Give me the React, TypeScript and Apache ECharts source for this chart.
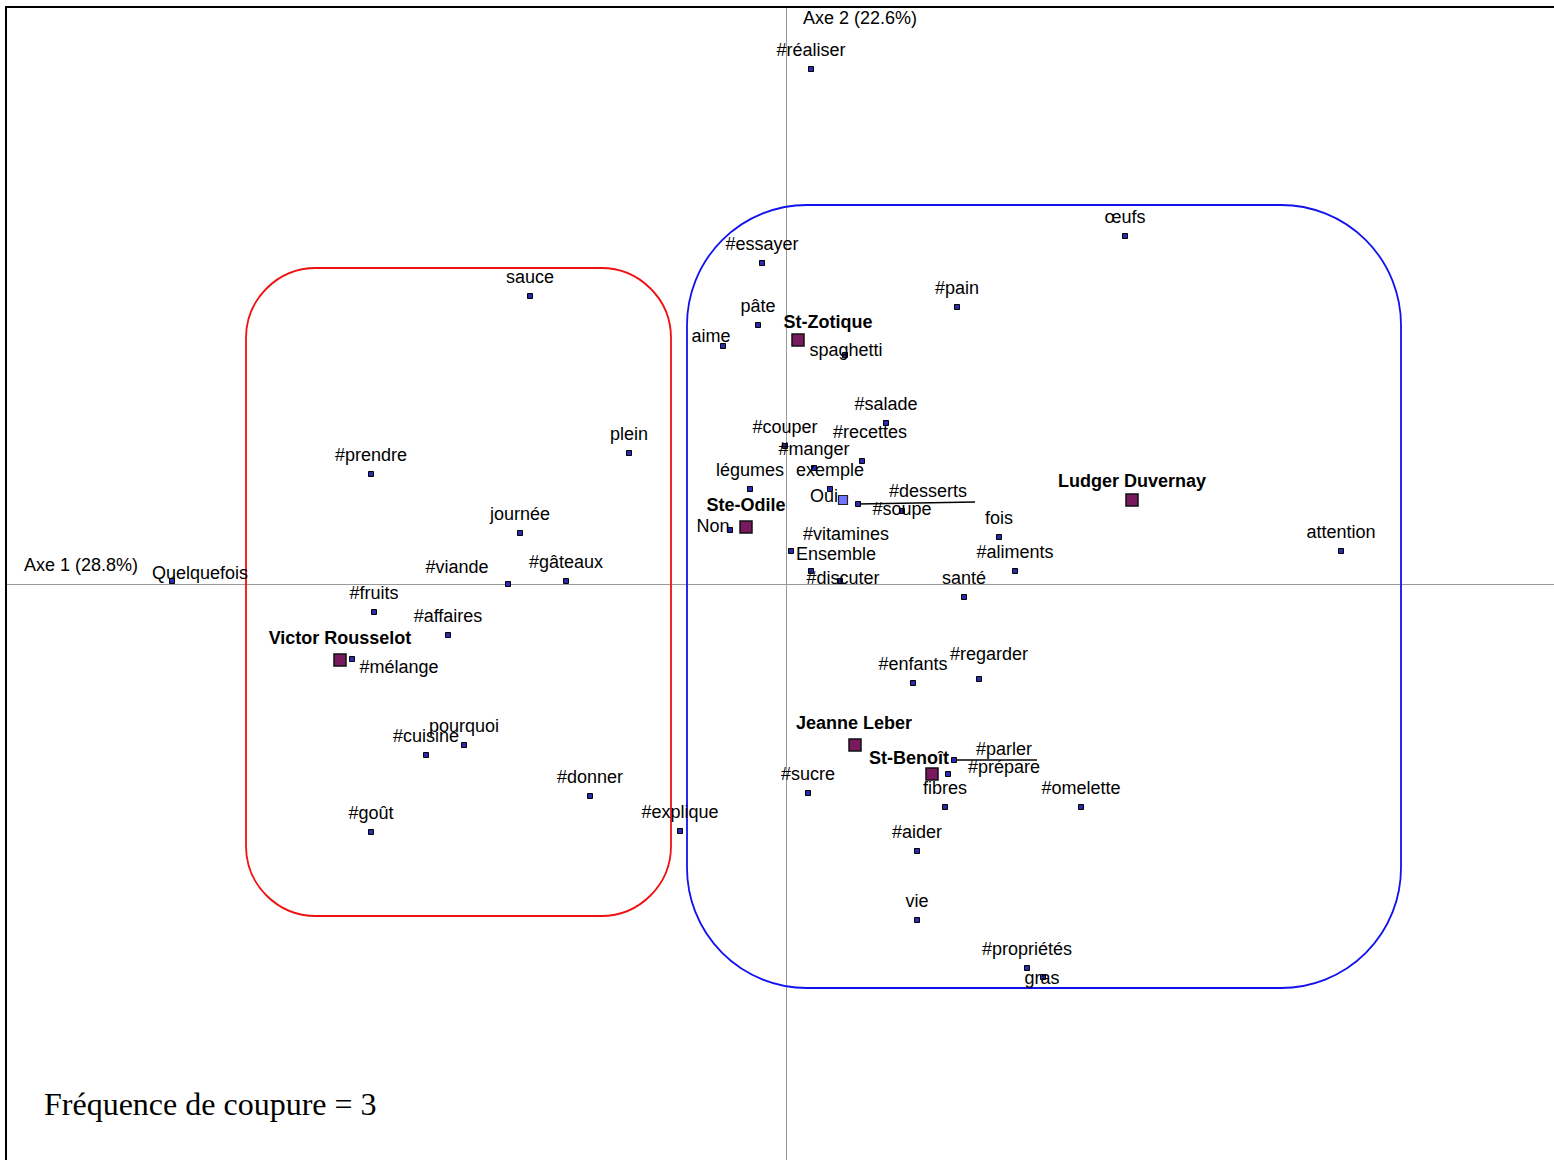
import React, { useEffect, useRef } from "react";
import * as echarts from "echarts";

// Word points: [label, axe1, axe2]
const words: [string, number, number][] = [
  ["#réaliser", 0.25, 5.15],
  ["œufs", 3.39, 3.48],
  ["#essayer", -0.24, 3.21],
  ["#pain", 1.71, 2.77],
  ["sauce", -2.56, 2.88],
  ["pâte", -0.28, 2.59],
  ["aime", -0.63, 2.38],
  ["spaghetti", 0.59, 2.29],
  ["#salade", 1.0, 1.61],
  ["#recettes", 0.76, 1.23],
  ["#couper", -0.01, 1.38],
  ["#manger", 0.28, 1.16],
  ["exemple", 0.44, 0.95],
  ["légumes", -0.36, 0.95],
  ["#desserts", 0.72, 0.8],
  ["#soupe", 1.16, 0.73],
  ["Non", -0.56, 0.54],
  ["#vitamines", 0.25, 0.13],
  ["Ensemble", 0.05, 0.33],
  ["#discuter", 0.54, 0.03],
  ["fois", 2.13, 0.47],
  ["#aliments", 2.29, 0.13],
  ["santé", 1.78, -0.13],
  ["attention", 5.55, 0.33],
  ["plein", -1.57, 1.31],
  ["#prendre", -4.15, 1.1],
  ["journée", -2.66, 0.51],
  ["#viande", -2.78, 0.0],
  ["#gâteaux", -2.2, 0.03],
  ["Quelquefois", -6.14, 0.03],
  ["#fruits", -4.12, -0.28],
  ["#affaires", -3.38, -0.51],
  ["#mélange", -4.34, -0.75],
  ["#cuisine", -3.6, -1.71],
  ["pourquoi", -3.22, -1.61],
  ["#donner", -1.96, -2.12],
  ["#goût", -4.15, -2.48],
  ["#explique", -1.06, -2.47],
  ["#enfants", 1.27, -0.99],
  ["#regarder", 1.93, -0.95],
  ["#parler", 1.68, -1.76],
  ["#prépare", 1.62, -1.9],
  ["fibres", 1.59, -2.23],
  ["#sucre", 0.22, -2.09],
  ["#omelette", 2.95, -2.23],
  ["#aider", 1.31, -2.67],
  ["vie", 1.31, -3.36],
  ["#propriétés", 2.41, -3.84],
  ["gras", 2.57, -3.93],
];

// Group (school) points
const groups: [string, number, number][] = [
  ["St-Zotique", 0.12, 2.44],
  ["Ste-Odile", -0.4, 0.57],
  ["Ludger Duvernay", 3.46, 0.84],
  ["Victor Rousselot", -4.46, -0.76],
  ["Jeanne Leber", 0.69, -1.61],
  ["St-Benoît", 1.46, -1.9],
];

// Supplementary point
const supplementary: [string, number, number][] = [["Oui", 0.57, 0.84]];

// Leader lines from a point to its displaced label: [x1, y1, x2, y2]
const leaders: [number, number, number, number][] = [
  [0.72, 0.8, 1.89, 0.82],
  [1.68, -1.76, 2.51, -1.76],
];

// Cluster frames: [xLeft, yTop, xRight, yBottom]
const clusters: [number, number, number, number][] = [
  [-5.4, 3.16, -1.15, -3.32],
  [-0.99, 3.79, 6.15, -4.04],
];

const axisTitles = ["Axe 1 (28.8%)", "Axe 2 (22.6%)"];
const footnote = "Fréquence de coupure = 3";

// ---- styling (label offsets in px, relative to point) ----
const labelOffsets: Record<string, [number, number]> = {
  aime: [-12, -10],
  spaghetti: [1, -5],
  "#recettes": [8, -29],
  "#desserts": [70, -13],
  "#soupe": [0, -2],
  Non: [-17, -4],
  "#vitamines": [35, -37],
  Ensemble: [45, 3],
  "#discuter": [3, -3],
  "#viande": [-51, -17],
  Quelquefois: [28, -8],
  "#mélange": [47, 8],
  "#regarder": [10, -25],
  "#parler": [50, -11],
  "#prépare": [56, -7],
  gras: [-1, 1],
  "St-Zotique": [30, -18],
  "Ste-Odile": [0, -22],
  "Victor Rousselot": [0, -22],
  "Jeanne Leber": [-1, -22],
  "St-Benoît": [-23, -16],
  Oui: [-19, -4],
};
const clusterColors = ["#ee1111", "#1111ee"];
const clusterRadius = [70, 120];
const FONT = "'Liberation Sans', Arial, Helvetica, sans-serif";

function toData(list: [string, number, number][], defDy: number) {
  return list.map(([name, x, y]) => ({
    name,
    value: [x, y],
    label: { offset: labelOffsets[name] || [0, defDy] },
  }));
}

export default function App() {
  const ref = useRef<HTMLDivElement>(null);
  useEffect(() => {
    document.body.style.margin = "0";
    const chart = echarts.init(ref.current!, undefined, { renderer: "svg" });
    const labelBase = {
      show: true,
      position: "inside",
      formatter: "{b}",
      color: "#000",
      textBorderWidth: 0,
      fontFamily: FONT,
      fontSize: 18,
    };
    const series: any[] = [
      {
        type: "custom",
        silent: true,
        z: 1,
        data: clusters.map((c, i) => [...c, i]),
        encode: { x: [0, 2], y: [1, 3] },
        renderItem: (params: any, api: any) => {
          const p0 = api.coord([api.value(0), api.value(1)]);
          const p1 = api.coord([api.value(2), api.value(3)]);
          const i = api.value(4);
          return {
            type: "rect",
            shape: {
              x: p0[0],
              y: p0[1],
              width: p1[0] - p0[0],
              height: p1[1] - p0[1],
              r: clusterRadius[i],
            },
            style: { fill: "none", stroke: clusterColors[i], lineWidth: 1.8 },
          };
        },
      },
      ...leaders.map((l) => ({
        type: "line",
        silent: true,
        symbol: "none",
        z: 2,
        lineStyle: { color: "#000", width: 1.5 },
        data: [
          [l[0], l[1]],
          [l[2], l[3]],
        ],
      })),
      {
        type: "scatter",
        z: 3,
        symbol: "rect",
        symbolSize: 5,
        itemStyle: { color: "#2a2ab0", borderColor: "#000", borderWidth: 1, opacity: 1 },
        label: labelBase,
        data: toData(words, -19),
      },
      {
        type: "scatter",
        z: 4,
        symbol: "rect",
        symbolSize: 9,
        itemStyle: { color: "#7373ff", borderColor: "#222", borderWidth: 1.2, opacity: 1 },
        label: labelBase,
        data: toData(supplementary, -19),
      },
      {
        type: "scatter",
        z: 4,
        symbol: "rect",
        symbolSize: 12,
        itemStyle: { color: "#7a1a5e", borderColor: "#111", borderWidth: 1.5, opacity: 1 },
        label: { ...labelBase, fontWeight: "bold", fontSize: 18 },
        data: toData(groups, -19),
      },
    ];
    chart.setOption({
      animation: false,
      backgroundColor: "#fff",
      grid: { left: 6, right: 0, top: 7, bottom: 0, containLabel: false },
      xAxis: {
        type: "value",
        min: -7.8,
        max: 7.68,
        axisLine: { onZero: true, lineStyle: { color: "#999", width: 1 } },
        axisTick: { show: false },
        axisLabel: { show: false },
        splitLine: { show: false },
      },
      yAxis: {
        type: "value",
        min: -5.76,
        max: 5.77,
        axisLine: { onZero: true, lineStyle: { color: "#999", width: 1 } },
        axisTick: { show: false },
        axisLabel: { show: false },
        splitLine: { show: false },
      },
      graphic: [
        {
          type: "line",
          shape: { x1: 6, y1: 7, x2: 1554, y2: 7 },
          style: { stroke: "#000", lineWidth: 2 },
          z: 10,
        },
        {
          type: "line",
          shape: { x1: 6, y1: 6, x2: 6, y2: 1160 },
          style: { stroke: "#000", lineWidth: 2 },
          z: 10,
        },
        {
          type: "text",
          left: 24,
          top: 556,
          style: { text: axisTitles[0], font: `18px ${FONT}`, fill: "#000" },
        },
        {
          type: "text",
          left: 803,
          top: 9,
          style: { text: axisTitles[1], font: `18px ${FONT}`, fill: "#000" },
        },
        {
          type: "text",
          left: 44,
          top: 1088,
          style: {
            text: footnote,
            font: `32px 'Liberation Serif', 'Times New Roman', serif`,
            fill: "#000",
          },
        },
      ],
      series,
    });
    return () => chart.dispose();
  }, []);
  return (
    <div
      ref={ref}
      style={{ position: "absolute", left: 0, top: 0, width: 1554, height: 1160 }}
    />
  );
}
